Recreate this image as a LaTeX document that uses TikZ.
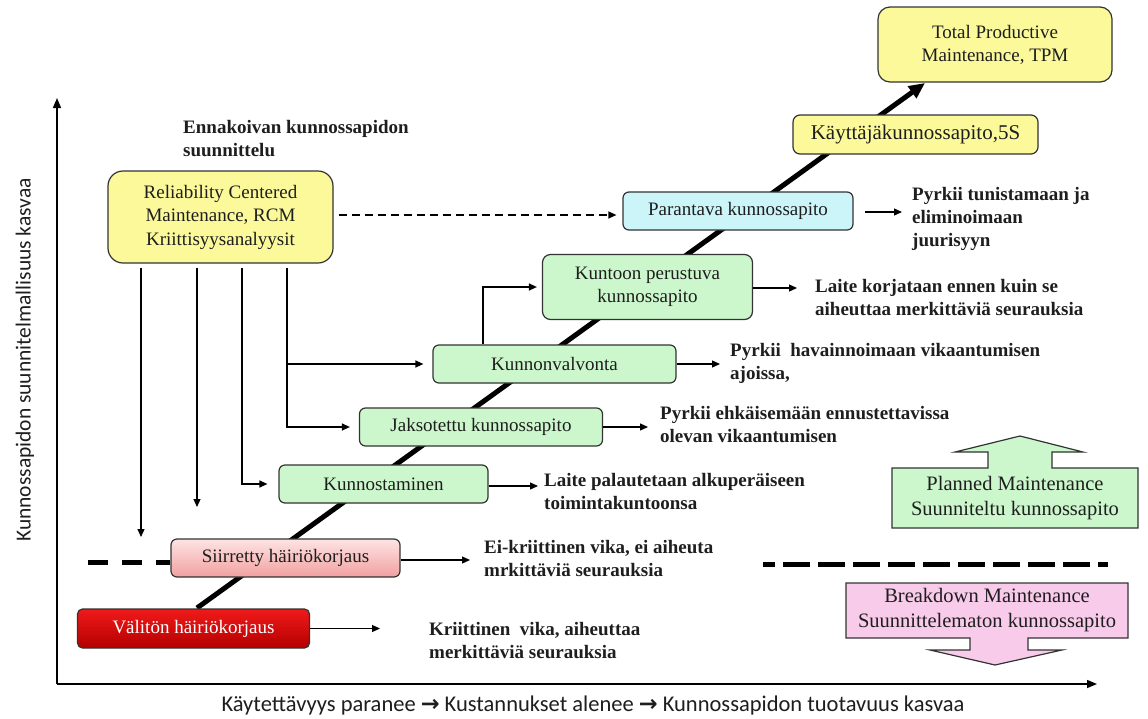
\documentclass[tikz,border=0pt]{standalone}
\usepackage{fontspec}
\setmainfont{Liberation Serif}
\newfontfamily\axisfont{Carlito}
\newfontfamily\symfont{DejaVu Sans}
\usetikzlibrary{arrows.meta,calc}
\definecolor{gfill}{HTML}{CCF7CC}
\definecolor{cfill}{HTML}{CCF5FA}
\definecolor{yfill}{HTML}{FBF99A}
\definecolor{pfill}{HTML}{F9CBEA}
\definecolor{ptop}{HTML}{FDE4E4}
\definecolor{pbot}{HTML}{F2A0A0}
\definecolor{vtop}{HTML}{F01A1A}
\definecolor{vbot}{HTML}{B40000}
\definecolor{boxline}{HTML}{333333}
\definecolor{textc}{HTML}{1E1E1E}
\begin{document}
\begin{tikzpicture}[x=1pt,y=-1pt,
  box/.style={draw=boxline, line width=1.2pt, rounded corners=6pt, align=center, inner sep=0pt, text=textc, font=\fontsize{19}{23}\selectfont},
  gbox/.style={box, fill=gfill},
  desc/.style={anchor=west, align=left, inner sep=0pt, font=\bfseries\fontsize{19}{23}\selectfont, text=textc},
  arr/.style={-{Triangle[length=8pt,width=7pt]}, line width=1.2pt},
  stair/.style={line width=5pt, -{Triangle[length=16pt,width=14pt]}},
  axis/.style={line width=1.5pt, -{Triangle[length=10pt,width=8pt]}},
  bigarrow/.style={draw=boxline, line width=1.2pt, line join=miter},
  bigtext/.style={align=center, inner sep=0pt, text=textc, font=\fontsize{20.5}{25}\selectfont}
]
\useasboundingbox (0,0) rectangle (1148,718);
\fill[white] (0,0) rectangle (1148,718);

% axes
\coordinate (origin) at (57,684);
\coordinate (ytop) at (57,98);
\coordinate (xend) at (1097,684);
\draw[axis] (origin) -- (ytop);
\draw[axis] (origin) -- (xend);
\node[rotate=90, inner sep=0pt, font=\axisfont\fontsize{21.5}{24}\selectfont, text=textc] (ylab) at (25,360) {Kunnossapidon suunnitelmallisuus kasvaa};
\node[inner sep=0pt, font=\axisfont\fontsize{22.5}{25}\selectfont, text=textc] (xlab) at (593,705) {Käytettävyys paranee {\symfont\bfseries →} Kustannukset alenee {\symfont\bfseries →} Kunnossapidon tuotavuus kasvaa};

% stair line
\coordinate (s0) at (197,608);
\coordinate (s1) at (925,83);
\draw[stair] (s0) -- (s1);

% thick dashed separators
\coordinate (dl0) at (88,562);
\coordinate (dr0) at (763,564);
\coordinate (dr1) at (1108,564);

% boxes
\node[box, rounded corners=5pt, top color=vtop, bottom color=vbot, text=white, minimum width=232pt, minimum height=39pt] (valiton) at (193.5,628.5) {Välitön häiriökorjaus};
\node[box, top color=ptop, bottom color=pbot, minimum width=229pt, minimum height=38pt] (siirretty) at (285.5,558) {Siirretty häiriökorjaus};
\draw[line width=5pt, dash pattern=on 20pt off 14pt] (dl0) -- (dl0 -| siirretty.west);
\draw[line width=5pt, dash pattern=on 27pt off 8pt, dash phase=15pt] (dr0) -- (dr1);

\node[gbox, minimum width=209pt, minimum height=38pt] (kunnost) at (383.5,484) {Kunnostaminen};
\node[gbox, minimum width=243pt, minimum height=38pt] (jakso) at (481,427) {Jaksotettu kunnossapito};
\node[gbox, minimum width=243pt, minimum height=38pt] (kunnonv) at (554.5,364) {Kunnonvalvonta};
\node[gbox, rounded corners=8pt, minimum width=210pt, minimum height=65pt] (kuntoon) at (647.5,287) {Kuntoon perustuva\\kunnossapito};
\node[box, fill=cfill, minimum width=230pt, minimum height=38pt] (parant) at (738,211) {Parantava kunnossapito};
\node[box, fill=yfill, rounded corners=7pt, minimum width=245pt, minimum height=39pt, font=\fontsize{21}{25}\selectfont] (kaytt) at (915.5,134.5) {Käyttäjäkunnossapito,5S};
\node[box, fill=yfill, rounded corners=12pt, minimum width=234pt, minimum height=75pt] (tpm) at (995,44.5) {Total Productive\\Maintenance, TPM};
\node[box, fill=yfill, rounded corners=15pt, minimum width=225pt, minimum height=92pt, font=\fontsize{19}{23.5}\selectfont] (rcm) at (220.5,217) {Reliability Centered\\Maintenance, RCM\\Kriittisyysanalyysit};

% header text
\node[desc] (ennak) at (183,139) {Ennakoivan kunnossapidon\\suunnittelu};

% descriptions
\node[desc] (dval) at (429,641) {Kriittinen\ \ vika, aiheuttaa\\merkittäviä seurauksia};
\node[desc] (dsii) at (484,558.5) {Ei-kriittinen vika, ei aiheuta\\mrkittäviä seurauksia};
\node[desc] (dkun) at (544,491.5) {Laite palautetaan alkuperäiseen\\toimintakuntoonsa};
\node[desc] (djak) at (660,425) {Pyrkii ehkäisemään ennustettavissa\\olevan vikaantumisen};
\node[desc] (dkv) at (730,363.5) {Pyrkii\ \ havainnoimaan vikaantumisen\\ajoissa,};
\node[desc] (dkt) at (815,298) {Laite korjataan ennen kuin se\\aiheuttaa merkittäviä seurauksia};
\node[desc] (dpar) at (912,218.5) {Pyrkii tunistamaan ja\\eliminoimaan\\juurisyyn};

% description arrows
\coordinate (valend) at (380,628.5);
\draw[arr] (valiton.east) -- (valend);
\draw[arr, shorten >=14pt] (siirretty.east |- 0,560) -- (dsii.west |- 0,560);
\draw[arr, shorten >=6pt] (kunnost.east |- 0,486) -- (dkun.west |- 0,486);
\draw[arr, shorten >=12pt] (jakso.east) -- (jakso.east -| djak.west);
\draw[arr, shorten >=10pt] (kunnonv.east) -- (kunnonv.east -| dkv.west);
\draw[arr, shorten >=18pt] (kuntoon.east |- 0,288) -- (dkt.west |- 0,288);
\draw[arr, shorten <=11pt, shorten >=10pt] (parant.east |- 0,212) -- (dpar.west |- 0,212);

% RCM connectors
\coordinate (r1end) at (141,537);
\coordinate (r2end) at (197,507);
\draw[arr, shorten <=4pt] (rcm.south -| r1end) -- (r1end);
\draw[arr, shorten <=4pt] (rcm.south -| r2end) -- (r2end);
\draw[arr, shorten <=4pt, shorten >=11pt] (rcm.south -| 242,0) |- (kunnost.west);
\coordinate (r4) at (rcm.south -| 287,0);
\draw[arr, shorten <=4pt, shorten >=9pt] (r4) |- (jakso.west);
\draw[arr, shorten >=9pt] (kunnonv.west -| r4) -- (kunnonv.west);
\draw[arr, shorten >=5pt] (kunnonv.north -| 483,0) |- (kuntoon.west |- 0,287);
\draw[arr, dash pattern=on 8pt off 5pt, shorten <=5pt, shorten >=6pt] (rcm.east |- 0,215) -- (parant.west |- 0,215);

% big block arrows
\fill[gfill] (892,528) -- (892,468) -- (988,468) -- (988,452) -- (955,452) -- (1020,436) -- (1083,452) -- (1052,452) -- (1052,468) -- (1138,468) -- (1138,528) -- cycle;
\draw[bigarrow] (892,528) -- (892,468) -- (988,468) -- (988,452) -- (955,452) -- (1020,436) -- (1083,452) -- (1052,452) -- (1052,468) -- (1138,468) -- (1138,528) -- cycle;
\fill[pfill] (846,583) -- (1128,583) -- (1128,638) -- (1028,638) -- (1028,650) -- (1062,650) -- (995,665) -- (930,650) -- (970,650) -- (970,638) -- (846,638) -- cycle;
\draw[bigarrow] (846,583) -- (1128,583) -- (1128,638) -- (1028,638) -- (1028,650) -- (1062,650) -- (995,665) -- (930,650) -- (970,650) -- (970,638) -- (846,638) -- cycle;
\node[bigtext] (planned) at (1015,498) {Planned Maintenance\\Suunniteltu kunnossapito};
\node[bigtext] (breakdown) at (987,610) {Breakdown Maintenance\\Suunnittelematon kunnossapito};
\end{tikzpicture}
\end{document}
